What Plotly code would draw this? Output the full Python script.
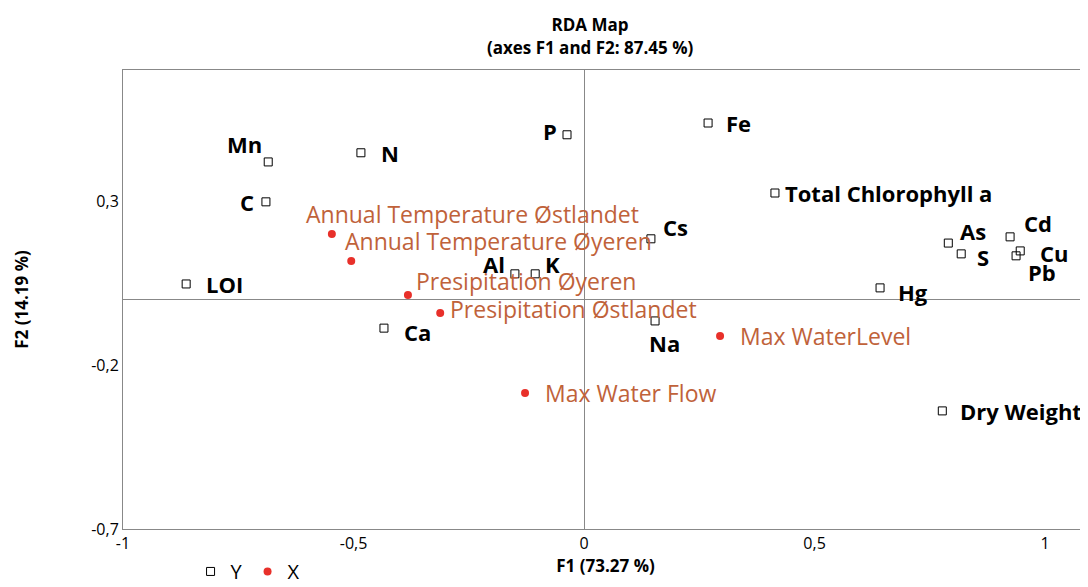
import plotly.graph_objects as go

y_names = ["Mn","N","P","Fe","C","Total Chlorophyll a","Cs","As","Cd","S","Cu","Pb","Al","K","LOI","Hg","Ca","Na","Dry Weight"]
y_f1 = [-0.685,-0.484,-0.037,0.269,-0.69,0.414,0.145,0.79,0.924,0.818,0.946,0.937,-0.15,-0.106,-0.863,0.642,-0.434,0.154,0.777]
y_f2 = [0.422,0.45,0.505,0.541,0.30,0.327,0.187,0.174,0.193,0.141,0.15,0.135,0.08,0.08,0.049,0.037,-0.086,-0.064,-0.339]
# label offsets in pixels (dx, dy) and anchor
y_lab = [(-4,18,"right"),(18,0,"left"),(-8,4,"right"),(16,0,"left"),(-10,0,"right"),(8,0,"left"),(10,12,"left"),(10,12,"left"),(12,14,"left"),(14,-3,"left"),(18,-2,"left"),(10,-16,"left"),(-8,10,"right"),(8,10,"left"),(18,0,"left"),(16,-4,"left"),(18,-4,"left"),(-8,-22,"left"),(16,0,"left")]

x_names = ["Annual Temperature Østlandet","Annual Temperature Øyeren","Presipitation Øyeren","Presipitation Østlandet","Max WaterLevel","Max Water Flow"]
x_f1 = [-0.547,-0.505,-0.382,-0.312,0.295,-0.128]
x_f2 = [0.202,0.119,0.015,-0.04,-0.11,-0.284]
x_lab = [(-28,20,"left"),(-8,20,"left"),(6,14,"left"),(8,4,"left"),(18,0,"left"),(18,0,"left")]

fig = go.Figure()
fig.add_trace(go.Scatter(x=y_f1, y=y_f2, mode="markers", name="Y",
    marker=dict(symbol="square-open", size=8, color="black", line=dict(width=1)), cliponaxis=False))
fig.add_trace(go.Scatter(x=x_f1, y=x_f2, mode="markers", name="X",
    marker=dict(symbol="circle", size=8, color="#e8302a"), cliponaxis=False))

ann = []
for n, a, b, (dx, dy, anc) in zip(y_names, y_f1, y_f2, y_lab):
    ann.append(dict(x=a, y=b, text="<b>%s</b>" % n, showarrow=False, xanchor=anc, yanchor="middle",
                    xshift=dx, yshift=dy, font=dict(size=22, color="black")))
for n, a, b, (dx, dy, anc) in zip(x_names, x_f1, x_f2, x_lab):
    ann.append(dict(x=a, y=b, text=n, showarrow=False, xanchor=anc, yanchor="middle",
                    xshift=dx, yshift=dy, font=dict(size=23, color="#c0623a")))

fig.update_layout(
    width=1088, height=587, plot_bgcolor="white", paper_bgcolor="white",
    margin=dict(l=115, r=8, t=62, b=66, autoexpand=False),
    font=dict(family="Open Sans", size=16, color="black"),
    annotations=ann,
    title=dict(text="<b>RDA Map</b><br><b>(axes F1 and F2: 87.45 %)</b>", x=0.535, xanchor="center", y=0.96, yanchor="top", font=dict(size=17)),
    showlegend=True,
    legend=dict(orientation="h", x=0.07, y=-0.05, xanchor="left", yanchor="top", font=dict(size=20)),
    xaxis=dict(range=[-1, 1.093], tickvals=[-1,-0.5,0,0.5,1], ticktext=["-1","-0,5","0","0,5","1"],
        showgrid=False, zeroline=True, zerolinecolor="#888", zerolinewidth=1, automargin=False,
        showline=True, linecolor="#888", mirror=True, ticks="", tickfont=dict(size=16),
        title=dict(text="<b>F1 (73.27 %)</b>", standoff=6, font=dict(size=17))),
    yaxis=dict(range=[-0.7, 0.703], tickvals=[-0.7,-0.2,0.3], ticktext=["-0,7","-0,2","0,3"],
        showgrid=False, zeroline=True, zerolinecolor="#888", zerolinewidth=1, automargin=False,
        showline=True, linecolor="#888", mirror=True, ticks="", tickfont=dict(size=16),
        title=dict(text="<b>F2 (14.19 %)</b>", standoff=58, font=dict(size=17))),
)
fig.write_html("out.html")
